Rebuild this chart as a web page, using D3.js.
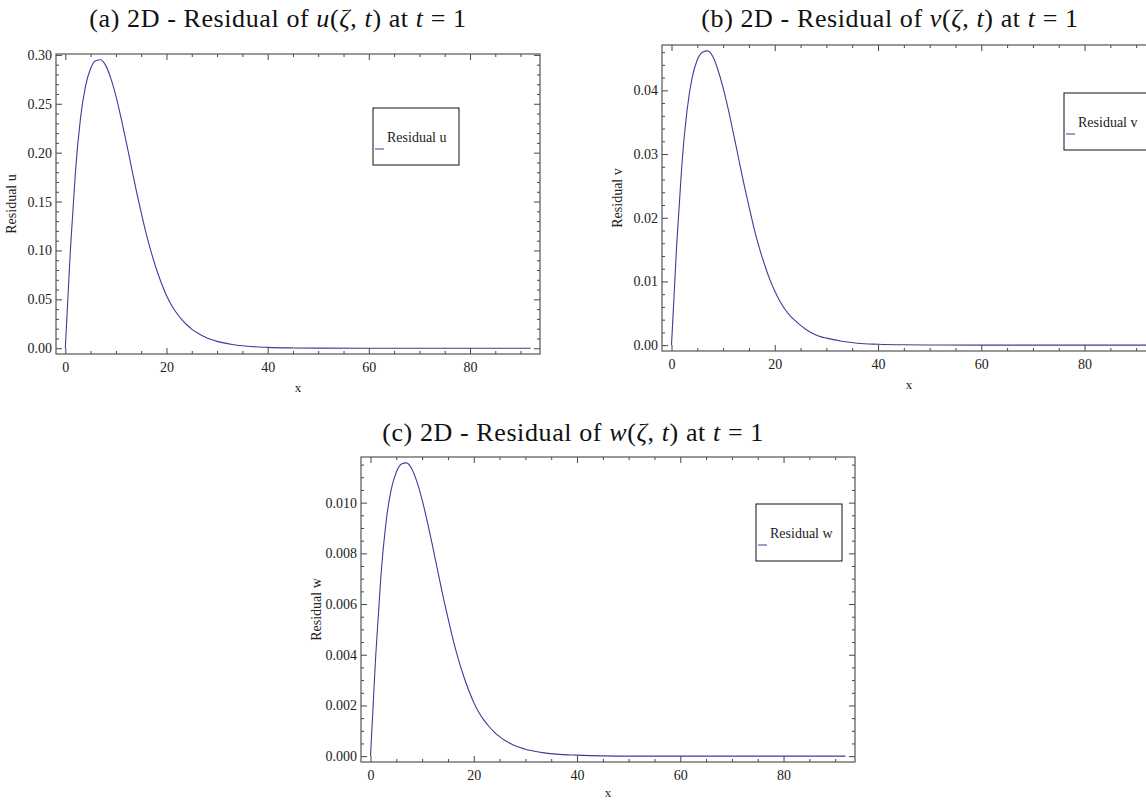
<!DOCTYPE html>
<html>
<head>
<meta charset="utf-8">
<script src="https://cdnjs.cloudflare.com/ajax/libs/d3/7.8.5/d3.min.js"></script>
<style>
  body { margin: 0; background: #fff; }
  .tick text { font-family: "Liberation Serif", "Times New Roman", serif; font-size: 14px; fill: #222; }
</style>
</head>
<body>
<div id="chart"></div>
<script>
// sample positions along x and the residual
var xs = [0, 0.5, 1, 1.5, 2, 3, 4, 5, 6, 7, 8, 9, 10, 11, 12, 13, 14, 15, 16, 17, 18, 19,
  20, 21, 22, 23, 24, 25, 26, 27, 28, 29, 30, 33, 36, 40, 45, 50, 60, 70, 80, 92];
var residualU = [0, 0.05, 0.10, 0.14, 0.18, 0.235, 0.268, 0.286, 0.294, 0.295, 0.289, 0.276, 0.258,
  0.236, 0.212, 0.187, 0.162, 0.139, 0.117, 0.098, 0.081, 0.0665, 0.054, 0.044, 0.036, 0.0295,
  0.024, 0.0196, 0.016, 0.013, 0.0105, 0.0086, 0.007, 0.0038, 0.002, 0.0009, 0.0003, 0.0001,
  0.00002, 0, 0, 0];
var residualV = [0, 0.0078, 0.0157, 0.0219, 0.0282, 0.0368, 0.0420, 0.0448, 0.0460, 0.0462, 0.0453,
  0.0432, 0.0404, 0.0370, 0.0332, 0.0293, 0.0254, 0.0218, 0.0183, 0.0153, 0.0127, 0.0104, 0.0085,
  0.0069, 0.0056, 0.0046, 0.0038, 0.0031, 0.0025, 0.0020, 0.0016, 0.0013, 0.0011, 0.0006, 0.0003,
  0.00014, 0.00005, 0.00002, 0, 0, 0, 0];
var residualW = [0, 0.00196, 0.00392, 0.00549, 0.00706, 0.00921, 0.01051, 0.01120, 0.01152, 0.01157,
  0.01133, 0.01082, 0.01011, 0.00925, 0.00831, 0.00733, 0.00635, 0.00545, 0.00459, 0.00384, 0.00318,
  0.00261, 0.00212, 0.00172, 0.00141, 0.00116, 0.00094, 0.00077, 0.00063, 0.00051, 0.00041, 0.00034,
  0.00027, 0.00015, 0.00008, 0.00004, 0.00001, 0, 0, 0, 0, 0];

var xTicks = [0, 20, 40, 60, 80];
var uTicks = [0, 0.05, 0.10, 0.15, 0.20, 0.25, 0.30];
var vTicks = [0, 0.01, 0.02, 0.03, 0.04];
var wTicks = [0, 0.002, 0.004, 0.006, 0.008, 0.010];

var lineColor = "#3d3d99";
var serif = "'Liberation Serif', 'Times New Roman', serif";

var svg = d3.select("#chart")
  .append("svg")
  .attr("width", 1146)
  .attr("height", 800)
  .style("background", "#fff");

// panels: frame position/size + y settings
var panels = [
  { tag: "a", fn: "u", values: residualU, ticks: uTicks, fmt: ".2f", minor: 0.01,
    left: 56, top: 54, width: 484, height: 300, yDomain: [-0.0059, 0.3009],
    titleX: 278, titleY: 27, xLabelY: 38, legend: [317, 54] },
  { tag: "b", fn: "v", values: residualV, ticks: vTicks, fmt: ".2f", minor: 0.002,
    left: 662, top: 45, width: 494, height: 306, yDomain: [-0.00092, 0.04712],
    titleX: 890, titleY: 27, xLabelY: 38, legend: [402, 48] },
  { tag: "c", fn: "w", values: residualW, ticks: wTicks, fmt: ".3f", minor: 0.0005,
    left: 361, top: 457, width: 494, height: 305, yDomain: [-0.000231, 0.0118],
    titleX: 573, titleY: 441, xLabelY: 35, legend: [395, 47] }
];

panels.forEach(function (p) { drawPanel(p); });

function drawPanel(p) {
  var g = svg.append("g")
    .attr("transform", "translate(" + p.left + "," + p.top + ")");

  var x = d3.scaleLinear().domain([-1.84, 93.84]).range([0, p.width]);
  var y = d3.scaleLinear().domain(p.yDomain).range([p.height, 0]);

  var xMinor = d3.range(5, 95, 5).filter(function (d) { return d % 20 != 0; });
  var yMinor = d3.range(0, p.yDomain[1], p.minor).filter(function (d) {
    return !p.ticks.some(function (t) { return Math.abs(t - d) < p.minor / 10; });
  });

  // bottom + left with labels, ticks pointing inside
  g.append("g")
    .attr("transform", "translate(0," + p.height + ")")
    .call(d3.axisBottom(x).tickValues(xTicks).tickSize(-6).tickPadding(8).tickFormat(d3.format("d")));
  g.append("g")
    .attr("transform", "translate(0," + p.height + ")")
    .call(d3.axisBottom(x).tickValues(xMinor).tickSize(-3).tickFormat(""));
  g.append("g")
    .call(d3.axisLeft(y).tickValues(p.ticks).tickSize(-6).tickPadding(4).tickFormat(d3.format(p.fmt)));
  g.append("g")
    .call(d3.axisLeft(y).tickValues(yMinor).tickSize(-3).tickFormat(""));

  // mirrored ticks on top + right
  g.append("g").call(d3.axisTop(x).tickValues(xTicks).tickSize(-6).tickFormat(""));
  g.append("g").call(d3.axisTop(x).tickValues(xMinor).tickSize(-3).tickFormat(""));
  g.append("g").attr("transform", "translate(" + p.width + ",0)")
    .call(d3.axisRight(y).tickValues(p.ticks).tickSize(-6).tickFormat(""));
  g.append("g").attr("transform", "translate(" + p.width + ",0)")
    .call(d3.axisRight(y).tickValues(yMinor).tickSize(-3).tickFormat(""));

  g.selectAll(".domain").remove();
  g.selectAll(".tick line").attr("stroke", "#444");

  g.append("rect")
    .attr("width", p.width)
    .attr("height", p.height)
    .attr("fill", "none")
    .attr("stroke", "#555")
    .attr("stroke-width", 1.2);

  // the residual curve
  var line = d3.line()
    .x(function (d, i) { return x(xs[i]); })
    .y(function (d) { return y(d); })
    .curve(d3.curveMonotoneX);
  g.append("path")
    .datum(p.values)
    .attr("fill", "none")
    .attr("stroke", lineColor)
    .attr("stroke-width", 1.1)
    .attr("d", line);

  // axis labels
  g.append("text")
    .attr("x", p.width / 2)
    .attr("y", p.height + p.xLabelY)
    .attr("text-anchor", "middle")
    .style("font-family", serif)
    .style("font-size", "13px")
    .style("fill", "#222")
    .text("x");
  g.append("text")
    .attr("transform", "translate(-40," + (p.height / 2) + ") rotate(-90)")
    .attr("text-anchor", "middle")
    .style("font-family", serif)
    .style("font-size", "14px")
    .style("fill", "#222")
    .text("Residual " + p.fn);

  // legend box
  var lg = g.append("g")
    .attr("transform", "translate(" + p.legend[0] + "," + p.legend[1] + ")");
  lg.append("rect")
    .attr("width", 86)
    .attr("height", 57)
    .attr("fill", "#fff")
    .attr("stroke", "#111")
    .attr("stroke-width", 1);
  lg.append("text")
    .attr("x", 14)
    .attr("y", 34)
    .style("font-family", serif)
    .style("font-size", "14px")
    .style("fill", "#222")
    .text("Residual " + p.fn);
  lg.append("line")
    .attr("x1", 2).attr("x2", 11)
    .attr("y1", 41).attr("y2", 41)
    .attr("stroke", lineColor)
    .attr("stroke-width", 1);

  // title, LaTeX-ish
  var t = svg.append("text")
    .attr("x", p.titleX)
    .attr("y", p.titleY)
    .attr("text-anchor", "middle")
    .style("font-family", serif)
    .style("font-size", "26px")
    .style("letter-spacing", "0.6px")
    .style("fill", "#111");
  t.append("tspan").text("(" + p.tag + ") 2D - Residual of ");
  t.append("tspan").style("font-style", "italic").text(p.fn);
  t.append("tspan").text("(");
  t.append("tspan").style("font-style", "italic").text("ζ");
  t.append("tspan").text(", ");
  t.append("tspan").style("font-style", "italic").text("t");
  t.append("tspan").text(") at ");
  t.append("tspan").style("font-style", "italic").text("t");
  t.append("tspan").text(" = 1");
}
</script>
</body>
</html>
